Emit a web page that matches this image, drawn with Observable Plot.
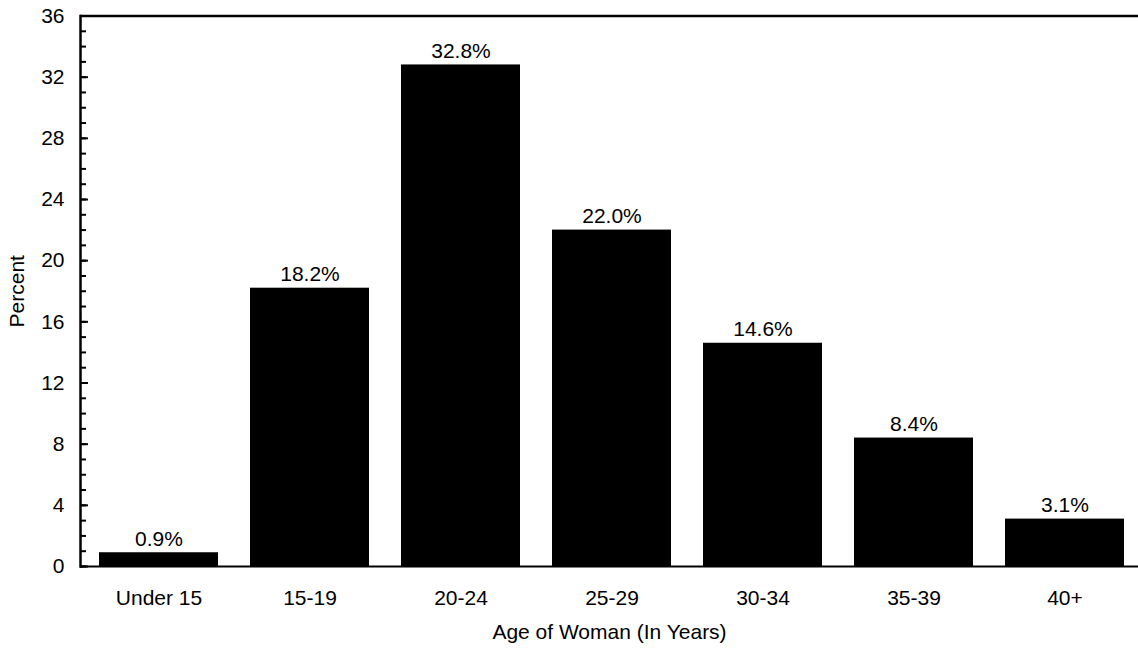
<!DOCTYPE html>
<html>
<head>
<meta charset="utf-8">
<script src="https://cdn.jsdelivr.net/npm/d3@7"></script>
<script src="https://cdn.jsdelivr.net/npm/@observablehq/plot@0.6"></script>
<style>
  html, body { margin: 0; padding: 0; background: #fff; }
  svg { display: block; }
</style>
</head>
<body>
<div id="chart"></div>
<script>
const categories = ["Under 15", "15-19", "20-24", "25-29", "30-34", "35-39", "40+"];
const values = [0.9, 18.2, 32.8, 22.0, 14.6, 8.4, 3.1];
const majorTicks = [0, 4, 8, 12, 16, 20, 24, 28, 32, 36];
const minorTicks = d3.range(0, 37, 1);
const yLabel = "Percent";
const xLabel = "Age of Woman (In Years)";

const data = categories.map((c, i) => ({category: c, value: values[i]}));
const font = "'Liberation Sans', Arial, sans-serif";

const chart = Plot.plot({
  width: 1138,
  height: 650,
  marginTop: 15.5,
  marginBottom: 84,
  marginLeft: 80,
  marginRight: 0,
  style: {fontFamily: font, fontSize: "21px", color: "#000", background: "#fff"},
  x: {domain: categories, range: [80, 1142], paddingInner: 0.2145, paddingOuter: 0.1122, align: 0.5, label: null},
  y: {domain: [0, 36], label: null},
  marks: [
    Plot.barY(data, {x: "category", y: "value", fill: "#000"}),
    Plot.text(data, {x: "category", y: "value", text: d => d.value.toFixed(1) + "%", lineAnchor: "bottom", dy: -7, fill: "#000", fontSize: 21}),
    Plot.axisX({tickSize: 0, tickPadding: 24, fontSize: 21, label: null}),
    Plot.axisY({ticks: minorTicks, tickSize: -6, tickFormat: () => "", strokeWidth: 2, label: null}),
    Plot.axisY({ticks: majorTicks, tickSize: -8, tickFormat: () => "", strokeWidth: 2, label: null}),
    Plot.axisY({ticks: majorTicks, tickSize: 0, tickPadding: 16, fontSize: 21, label: null}),
    Plot.ruleY([36], {stroke: "#000", strokeWidth: 2.5}),
    Plot.ruleY([0], {stroke: "#000", strokeWidth: 2}),
    Plot.frame({anchor: "left", stroke: "#000", strokeWidth: 2.5}),
    Plot.text([yLabel], {frameAnchor: "left", dx: -63, rotate: -90, text: d => d, textAnchor: "middle", lineAnchor: "middle", fontSize: 21, fill: "#000"}),
    Plot.text([xLabel], {frameAnchor: "bottom", dy: 66, text: d => d, textAnchor: "middle", lineAnchor: "middle", fontSize: 21, fill: "#000"})
  ]
});
document.getElementById("chart").appendChild(chart);
</script>
</body>
</html>
